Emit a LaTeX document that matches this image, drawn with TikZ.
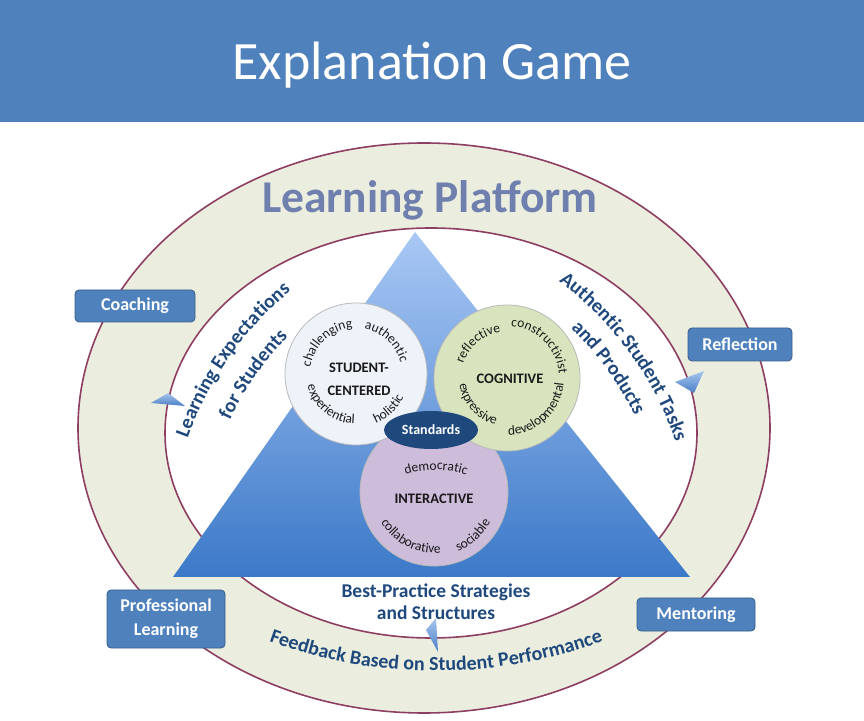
\documentclass[tikz,border=0pt]{standalone}
\usepackage{fontspec}
\setmainfont{Carlito}
\usetikzlibrary{decorations.text, shapes.geometric}
\definecolor{titleblue}{HTML}{4F81BD}
\definecolor{bandcream}{HTML}{EBEEDF}
\definecolor{ringmaroon}{HTML}{8E3E63}
\definecolor{navy}{HTML}{1F497D}
\definecolor{slate}{HTML}{6F7FAE}
\definecolor{boxedge}{HTML}{385D8A}
\definecolor{trilight}{HTML}{A9C8F5}
\definecolor{tridark}{HTML}{3C79C8}
\definecolor{studentfill}{HTML}{EEF2F9}
\definecolor{cognitivefill}{HTML}{D7E4BD}
\definecolor{interfill}{HTML}{CDBCDA}
\definecolor{chevlight}{HTML}{A7C6EE}
\definecolor{chevdark}{HTML}{4A7FC6}
\definecolor{wordink}{HTML}{1A1A1A}

\newcommand{\wordfont}{\fontsize{13.5}{13.5}\selectfont}
\newcommand{\bandfont}{\bfseries\fontsize{20}{20}\selectfont}

% text set on an arc: colour, font, centre, radius, from, to, text
\newcommand{\arctext}[7]{%
  \path[decorate, decoration={text along path, text align=center,
        text color=#1, text={|#2|#7}}]
    ([shift={(#5:#4)}]#3) arc[start angle=#5, end angle=#6, radius=#4];}

\tikzset{
  ringline/.style={draw=ringmaroon, line width=1.6pt},
  rolebox/.style={draw=boxedge, line width=0.8pt, fill=titleblue, rounded corners=4pt,
    text=white, font=\bfseries\fontsize{18}{24}\selectfont, align=center, inner sep=0pt},
  circlebox/.style={circle, draw=gray!55, line width=0.8pt, inner sep=0pt},
  circlelabel/.style={font=\bfseries\fontsize{14.5}{23}\selectfont, align=center, text=wordink},
  chevron/.style={top color=chevlight, bottom color=chevdark},
}

\begin{document}
\begin{tikzpicture}[x=1pt, y=1pt]
\useasboundingbox (0,0) rectangle (864,720);

% Title bar
\fill[titleblue] (0,598) rectangle (864,720);
\node[anchor=base, text=white, font=\fontsize{54}{60}\selectfont] (title) at (432,640) {Explanation Game};

% Outer band and inner field
\fill[bandcream] (424,292) ellipse[x radius=346, y radius=285];
\draw[ringline] (424,292) ellipse[x radius=346, y radius=285];
\fill[white] (431,287) ellipse[x radius=266, y radius=205];
\draw[ringline] (431,287) ellipse[x radius=266, y radius=205];

% Heading
\node[anchor=base, text=slate, font=\bfseries\fontsize{45.5}{50}\selectfont] (platform) at (430,507) {Learning Platform};

% Triangle
\coordinate (apex) at (415,488);
\coordinate (baseL) at (173,143);
\coordinate (baseR) at (690,143);
\shade[top color=trilight, bottom color=tridark] (apex) -- (baseR) -- (baseL) -- cycle;

% Three circles
\node[circlebox, minimum size=148pt, fill=interfill] (interactive) at (434,228) {};
\node[circlebox, minimum size=142pt, fill=studentfill] (student) at (356,346) {};
\node[circlebox, minimum size=146pt, fill=cognitivefill] (cognitive) at (507,342) {};

\node[circlelabel] (studentlbl) at (359,341) {STUDENT-\\CENTERED};
\node[circlelabel] (cognitivelbl) at (510,341) {COGNITIVE};
\node[circlelabel] (interlbl) at (434,221) {INTERACTIVE};

% Words round the circles
\arctext{wordink}{\wordfont}{356,346}{46}{183}{83}{challenging}
\arctext{wordink}{\wordfont}{356,346}{46}{97}{-3}{authentic}
\arctext{wordink}{\wordfont}{356,346}{50}{181}{281}{experiential}
\arctext{wordink}{\wordfont}{356,346}{53}{263}{363}{holistic}
\arctext{wordink}{\wordfont}{507,342}{46}{180}{80}{reflective}
\arctext{wordink}{\wordfont}{507,342}{52}{95}{-5}{constructivist}
\arctext{wordink}{\wordfont}{507,342}{48}{172}{272}{expressive}
\arctext{wordink}{\wordfont}{507,342}{57}{263}{363}{developmental}
\arctext{wordink}{\wordfont}{436,150}{100}{115}{65}{democratic}
\arctext{wordink}{\wordfont}{434,228}{61}{193}{293}{collaborative}
\arctext{wordink}{\wordfont}{434,228}{64}{262}{362}{sociable}

% Standards
\node[ellipse, fill=navy, minimum width=94pt, minimum height=38pt, inner sep=0pt,
      text=white, font=\bfseries\fontsize{14}{15}\selectfont] (standards) at (431,290) {Standards};

% Curved labels
\arctext{navy}{\bandfont}{507,168}{339}{170}{120}{Learning Expectations}
\arctext{navy}{\bandfont}{507,168}{307}{170}{120}{for Students}
\arctext{navy}{\bandfont}{355,168}{339}{61}{11}{Authentic Student Tasks}
\arctext{navy}{\bandfont}{355,168}{311}{61}{11}{and Products}
\arctext{navy}{\bandfont}{436,532}{483}{240}{300}{Feedback Based on Student Performance}

\node[font=\bfseries\fontsize{19.5}{22}\selectfont, text=navy, align=center] (strategies) at (436,118.5) {Best-Practice Strategies\\and Structures};

% Flow marks on the inner ring
\shade[chevron] (168,327) -- (185,314) -- (151,317) -- cycle;
\shade[chevron] (704,349) -- (694,327) -- (675,338) -- cycle;
\shade[chevron] (426,90) -- (436,102) -- (438,68) -- cycle;

% Boxes
\node[rolebox, minimum width=120pt, minimum height=32pt] (coaching) at (135,414) {Coaching};
\node[rolebox, minimum width=104pt, minimum height=33pt] (reflection) at (740,375.5) {Reflection};
\node[rolebox, minimum width=118pt, minimum height=58pt] (proflearn) at (166,101) {Professional\\Learning};
\node[rolebox, minimum width=118pt, minimum height=33pt] (mentoring) at (696,105.5) {Mentoring};

\end{tikzpicture}
\end{document}
